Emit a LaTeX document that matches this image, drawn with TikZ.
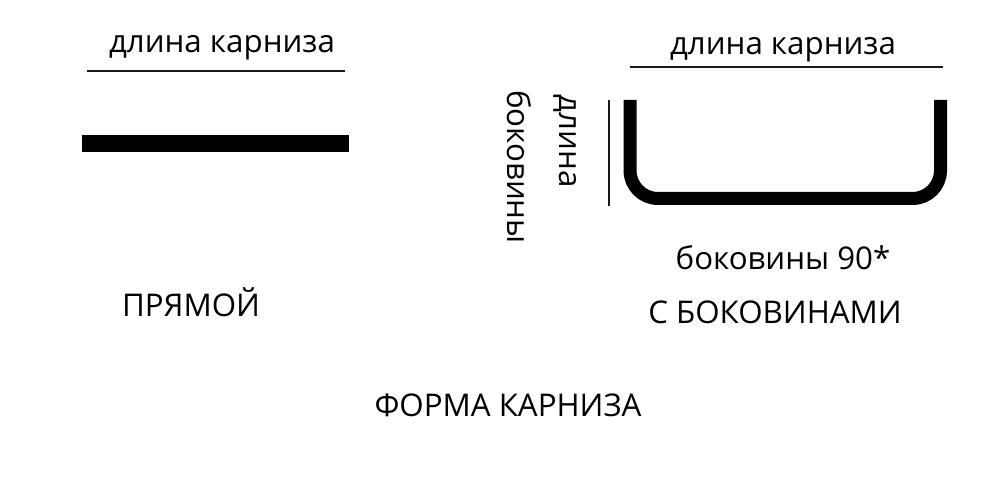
\documentclass[tikz,border=0pt]{standalone}
\usepackage{fontspec}
\setmainfont{Open Sans}
\tikzset{
  label text/.style={font=\fontsize{8.9pt}{11pt}\selectfont, text=black, inner sep=0pt},
  thin line/.style={draw=black!90, line width=0.8pt},
  rod/.style={draw=black, line width=3.7pt}
}
\begin{document}
\begin{tikzpicture}
\useasboundingbox (0,0) rectangle (10,4.88);
% straight rod
\node[label text] (straightlength) at (2.22,4.40) {длина карниза};
\draw[thin line] (0.87,4.17)--(3.45,4.17);
\fill[black] (0.82,3.53)--(3.49,3.53)--(3.49,3.36)--(0.82,3.36)--cycle;
\node[label text] (straightname) at (1.91,1.86) {ПРЯМОЙ};
% rod with sides
\node[label text] (sidedlength) at (7.83,4.38) {длина карниза};
\draw[thin line] (6.30,4.21)--(9.43,4.21);
\draw[thin line] (6.09,3.88)--(6.09,2.82);
\draw[rod, rounded corners=0.28cm] (6.30,3.88)--(6.30,2.895)--(9.405,2.895)--(9.405,3.88);
\node[label text, rotate=-90] (sidelengthA) at (5.65,3.47) {длина};
\node[label text, rotate=-90] (sidelengthB) at (5.19,3.21) {боковины};
\node[label text] (sideangle) at (7.83,2.30) {боковины 90*};
\node[label text] (sidedname) at (7.75,1.76) {С БОКОВИНАМИ};
% caption
\node[label text] (caption) at (5.08,0.83) {ФОРМА КАРНИЗА};
\end{tikzpicture}
\end{document}
